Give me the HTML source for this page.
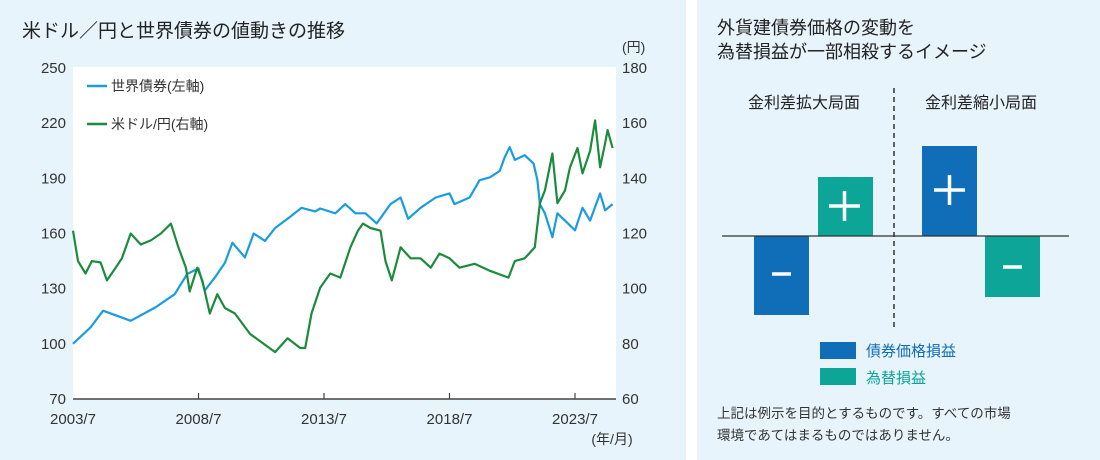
<!DOCTYPE html>
<html><head><meta charset="utf-8">
<style>
html,body{margin:0;padding:0;background:#fff;}
body{width:1100px;height:460px;position:relative;overflow:hidden;font-family:"Liberation Sans","Noto Sans CJK JP",sans-serif;}
</style></head>
<body>
<svg width="1100" height="460" xmlns="http://www.w3.org/2000/svg" style="position:absolute;left:0;top:0" font-family="Liberation Sans, Noto Sans CJK JP, sans-serif">
<rect x="0" y="0" width="686" height="460" fill="#e8f4fc"/>
<rect x="697" y="0" width="403" height="460" fill="#e8f4fc"/>
<text x="22" y="37" font-size="19" fill="#222">米ドル／円と世界債券の値動きの推移</text>
<rect x="73" y="67" width="543" height="332" fill="#fff"/>
<g id="leftTicks" font-size="15" fill="#333" text-anchor="end"></g>
<g id="rightTicks" font-size="15" fill="#333" text-anchor="start"></g>
<text x="622" y="52" font-size="14" fill="#333">(円)</text>
<g id="xTicks" font-size="15" fill="#333" text-anchor="middle"></g>
<text x="612" y="444" font-size="14" fill="#333" text-anchor="middle">(年/月)</text>
<g id="series"></g>
<line x1="73" y1="399" x2="616" y2="399" stroke="#444" stroke-width="1.5"/>
<g>
<line x1="87" y1="86" x2="107" y2="86" stroke="#1a9ce0" stroke-width="2.5"/>
<text x="111" y="91" font-size="14" fill="#333">世界債券(左軸)</text>
<line x1="87" y1="124" x2="107" y2="124" stroke="#1b8c3c" stroke-width="2.5"/>
<text x="111" y="129" font-size="14" fill="#333">米ドル/円(右軸)</text>
</g>

<text x="717" y="34" font-size="18" fill="#222">外貨建債券価格の変動を</text>
<text x="717" y="58" font-size="18" fill="#222">為替損益が一部相殺するイメージ</text>
<text x="804" y="108" font-size="16" fill="#222" text-anchor="middle">金利差拡大局面</text>
<text x="981" y="108" font-size="16" fill="#222" text-anchor="middle">金利差縮小局面</text>
<line x1="894" y1="88" x2="894" y2="328" stroke="#333" stroke-width="1.5" stroke-dasharray="5,4"/>
<rect x="754" y="236" width="55" height="79" fill="#0f6eb7"/>
<rect x="818" y="177" width="55" height="59" fill="#0ca597"/>
<rect x="922" y="146" width="55" height="90" fill="#0f6eb7"/>
<rect x="985" y="236" width="55" height="61" fill="#0ca597"/>
<line x1="722" y1="236" x2="1069" y2="236" stroke="#333" stroke-width="1.2"/>
<g stroke="#fff" stroke-width="3.5">
<line x1="772" y1="274" x2="791" y2="274"/>
<line x1="829" y1="206" x2="860" y2="206"/><line x1="844.5" y1="191" x2="844.5" y2="221"/>
<line x1="934" y1="190" x2="965" y2="190"/><line x1="949.5" y1="175" x2="949.5" y2="205"/>
<line x1="1003" y1="267" x2="1022" y2="267"/>
</g>
<rect x="820" y="342" width="36" height="17" fill="#0f6eb7"/>
<text x="866" y="356" font-size="15" fill="#0f6eb7">債券価格損益</text>
<rect x="820" y="368" width="36" height="17" fill="#0ca597"/>
<text x="866" y="383" font-size="15" fill="#0ca597">為替損益</text>
<text x="717" y="418" font-size="13.5" fill="#333">上記は例示を目的とするものです。すべての市場</text>
<text x="717" y="440" font-size="13.5" fill="#333">環境であてはまるものではありません。</text>
</svg>
<script>
const leftTickVals=[70,100,130,160,190,220,250];
const rightTickVals=[60,80,100,120,140,160,180];
const xTickYears=[2003.5,2008.5,2013.5,2018.5,2023.5];
const xTickLabels=["2003/7","2008/7","2013/7","2018/7","2023/7"];
const bondDates=[2003.5,2004.2,2004.7,2005.8,2006.8,2007.55,2008.05,2008.5,2008.75,2009.15,2009.55,2009.85,2010.35,2010.7,2011.15,2011.55,2012.15,2012.6,2013.15,2013.35,2013.95,2014.35,2014.75,2015.15,2015.6,2016.15,2016.55,2016.85,2017.35,2017.95,2018.5,2018.7,2019.3,2019.7,2020.1,2020.5,2020.7,2020.9,2021.1,2021.5,2021.85,2022.0,2022.1,2022.3,2022.6,2022.8,2023.1,2023.5,2023.8,2024.1,2024.5,2024.7,2025.0];
const bondValues=[100,109,118,112.5,120,127,138,141,129,136,144,155,147,160,156,163,169,174,172,173.6,171,176,171,171,165.5,176,179.6,168,174,179.6,181.8,176,179.6,189,190.5,194,201.5,207,200,202.5,198,189,176,171,158,171,167,161.7,174,167,181.8,172.6,176];
const fxDates=[2003.5,2003.7,2004.0,2004.25,2004.6,2004.85,2005.2,2005.45,2005.8,2006.2,2006.6,2007.0,2007.4,2007.7,2008.0,2008.15,2008.45,2008.65,2008.95,2009.25,2009.55,2009.95,2010.55,2010.95,2011.55,2012.05,2012.55,2012.75,2013.0,2013.35,2013.75,2014.15,2014.55,2014.85,2015.05,2015.35,2015.75,2015.95,2016.2,2016.55,2016.95,2017.35,2017.75,2018.1,2018.5,2018.9,2019.5,2020.1,2020.85,2021.1,2021.5,2021.9,2022.1,2022.3,2022.6,2022.8,2023.1,2023.3,2023.6,2023.8,2024.1,2024.3,2024.5,2024.7,2024.8,2025.0];
const fxValues=[121,110,105.5,110,109.5,103,107.6,111,120,116,117.5,120,123.6,115,107.6,99,107.6,103,91,98,93,91,83.6,81,77,82,78.5,78.5,91,100.4,105.5,104,115,121,123.6,122,121,110,103,115,111,111,107.6,112.7,111,107.6,109,106.5,104,110,111,115,131,135.6,149,131,135.6,144,151,141.8,150,161,144,152.7,157.5,151];

const NS="http://www.w3.org/2000/svg";
function xs(t){return 73+(t-2003.5)*25.1;}
function yl(v){return 399-(v-70)*331/180;}
function yr(v){return 399-(v-60)*331/120;}
function mk(tag,attrs,parent){const e=document.createElementNS(NS,tag);for(const k in attrs)e.setAttribute(k,attrs[k]);parent.appendChild(e);return e;}
const lt=document.getElementById('leftTicks');
leftTickVals.forEach(v=>{const t=mk('text',{x:66,y:yl(v)+5},lt);t.textContent=v;

});
const rt=document.getElementById('rightTicks');
rightTickVals.forEach(v=>{const t=mk('text',{x:622,y:yr(v)+5},rt);t.textContent=v;

});
const xt=document.getElementById('xTicks');
xTickYears.forEach((yv,i)=>{const t=mk('text',{x:xs(yv),y:424},xt);t.textContent=xTickLabels[i];


if(i>0){const l=mk('line',{x1:xs(yv),x2:xs(yv),y1:393,y2:399,stroke:'#444','stroke-width':1.2},xt);

}});
const sg=document.getElementById('series');
const p1=mk('polyline',{points:bondDates.map((d,i)=>xs(d).toFixed(1)+','+yl(bondValues[i]).toFixed(1)).join(' '),fill:'none',stroke:'#1a9ce0','stroke-width':2.2,'stroke-linejoin':'round'},sg);


const p2=mk('polyline',{points:fxDates.map((d,i)=>xs(d).toFixed(1)+','+yr(fxValues[i]).toFixed(1)).join(' '),fill:'none',stroke:'#1b8c3c','stroke-width':2.2,'stroke-linejoin':'round'},sg);


</script>
</body></html>
